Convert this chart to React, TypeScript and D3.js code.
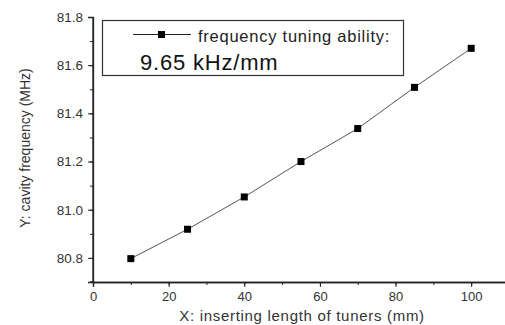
import React, { useEffect, useRef } from 'react';
import * as d3 from 'd3';

// inserting length of tuners (mm)
const lengths = [10, 25, 40, 55, 70, 85, 100];
// cavity frequency (MHz)
const freqs = [80.797, 80.919, 81.053, 81.2, 81.337, 81.508, 81.67];
const xTicks = [0, 20, 40, 60, 80, 100];
const yTicks = [80.8, 81.0, 81.2, 81.4, 81.6, 81.8];
const legendText = 'frequency tuning ability:';
const slopeText = '9.65 kHz/mm';

const W = 505;
const H = 325;
const FONT = '"Liberation Sans", Arial, sans-serif';

const App = () => {
  const svgRef = useRef<SVGSVGElement>(null);

  useEffect(() => {
    const svg = d3.select(svgRef.current);
    svg.selectAll('*').remove();

    const x = d3.scaleLinear().domain([0, 110]).range([93, 509]);
    const y = d3.scaleLinear().domain([80.7, 81.8]).range([282, 17]);

    const axisColor = '#222';
    const textColor = '#333';

    // x axis
    const gx = svg.append('g').attr('transform', `translate(0,${y(80.7)})`);
    gx.call(
      d3.axisBottom(x).tickValues(d3.range(0, 111, 10)).tickSize(3).tickFormat(() => '')
    );
    gx.call((g) =>
      g.append('g').call(
        d3.axisBottom(x).tickValues(xTicks).tickSize(5).tickFormat(d3.format('d'))
      )
    );
    gx.selectAll('path').attr('stroke', axisColor).attr('stroke-width', 1.3);
    gx.selectAll('line').attr('stroke', axisColor);
    gx.selectAll('text')
      .attr('font-family', FONT)
      .attr('font-size', 13)
      .attr('fill', textColor)
      .attr('y', 19)
      .attr('dy', null);

    // y axis
    const gy = svg.append('g').attr('transform', `translate(${x(0)},0)`);
    gy.call(
      d3.axisLeft(y).tickValues(d3.range(0, 11).map((i) => 80.8 + i * 0.1)).tickSize(3).tickFormat(() => '')
    );
    gy.call((g) =>
      g.append('g').call(
        d3.axisLeft(y).tickValues(yTicks).tickSize(5).tickFormat(d3.format('.1f'))
      )
    );
    gy.selectAll('path').attr('stroke', axisColor).attr('stroke-width', 1.3);
    gy.selectAll('line').attr('stroke', axisColor);
    gy.selectAll('text')
      .attr('font-family', FONT)
      .attr('font-size', 13.5)
      .attr('fill', textColor)
      .attr('x', -10);
    // extend y axis line up to top tick
    gy.select('path.domain').attr('d', `M-3,${y(80.7)}H0V${y(81.8)}`);

    // axis titles
    svg.append('text')
      .attr('x', 302)
      .attr('y', 321)
      .attr('text-anchor', 'middle')
      .attr('font-family', FONT)
      .attr('font-size', 15)
      .attr('letter-spacing', 0.7)
      .attr('fill', textColor)
      .text('X: inserting length of tuners (mm)');

    svg.append('text')
      .attr('transform', `translate(30,${148}) rotate(-90)`)
      .attr('text-anchor', 'middle')
      .attr('font-family', FONT)
      .attr('font-size', 14)
      .attr('fill', textColor)
      .text('Y: cavity frequency (MHz)');

    // data line
    const pts = lengths.map((l, i) => [x(l), y(freqs[i])] as [number, number]);
    svg.append('path')
      .attr('d', d3.line()(pts))
      .attr('fill', 'none')
      .attr('stroke', '#555')
      .attr('stroke-width', 1);

    svg.append('g')
      .selectAll('rect')
      .data(pts)
      .join('rect')
      .attr('x', (d) => d[0] - 3.5)
      .attr('y', (d) => d[1] - 3.5)
      .attr('width', 7)
      .attr('height', 7)
      .attr('fill', '#000');

    // legend
    const lg = svg.append('g');
    lg.append('rect')
      .attr('x', 102.5)
      .attr('y', 20.5)
      .attr('width', 301)
      .attr('height', 55)
      .attr('fill', '#fff')
      .attr('stroke', '#333')
      .attr('stroke-width', 1.2);
    lg.append('line')
      .attr('x1', 133)
      .attr('x2', 191)
      .attr('y1', 34.5)
      .attr('y2', 34.5)
      .attr('stroke', '#222');
    lg.append('rect')
      .attr('x', 158)
      .attr('y', 31)
      .attr('width', 7)
      .attr('height', 7)
      .attr('fill', '#000');
    lg.append('text')
      .attr('x', 198)
      .attr('y', 42)
      .attr('font-family', FONT)
      .attr('font-size', 16.5)
      .attr('letter-spacing', 0.75)
      .attr('fill', '#222')
      .text(legendText);
    lg.append('text')
      .attr('x', 140)
      .attr('y', 70)
      .attr('font-family', FONT)
      .attr('font-size', 22)
      .attr('letter-spacing', 0.8)
      .attr('fill', '#111')
      .text(slopeText);
  }, []);

  return (
    <svg
      ref={svgRef}
      width={W}
      height={H}
      style={{ position: 'absolute', left: 0, top: 0, background: '#fff' }}
    />
  );
};

export default App;
